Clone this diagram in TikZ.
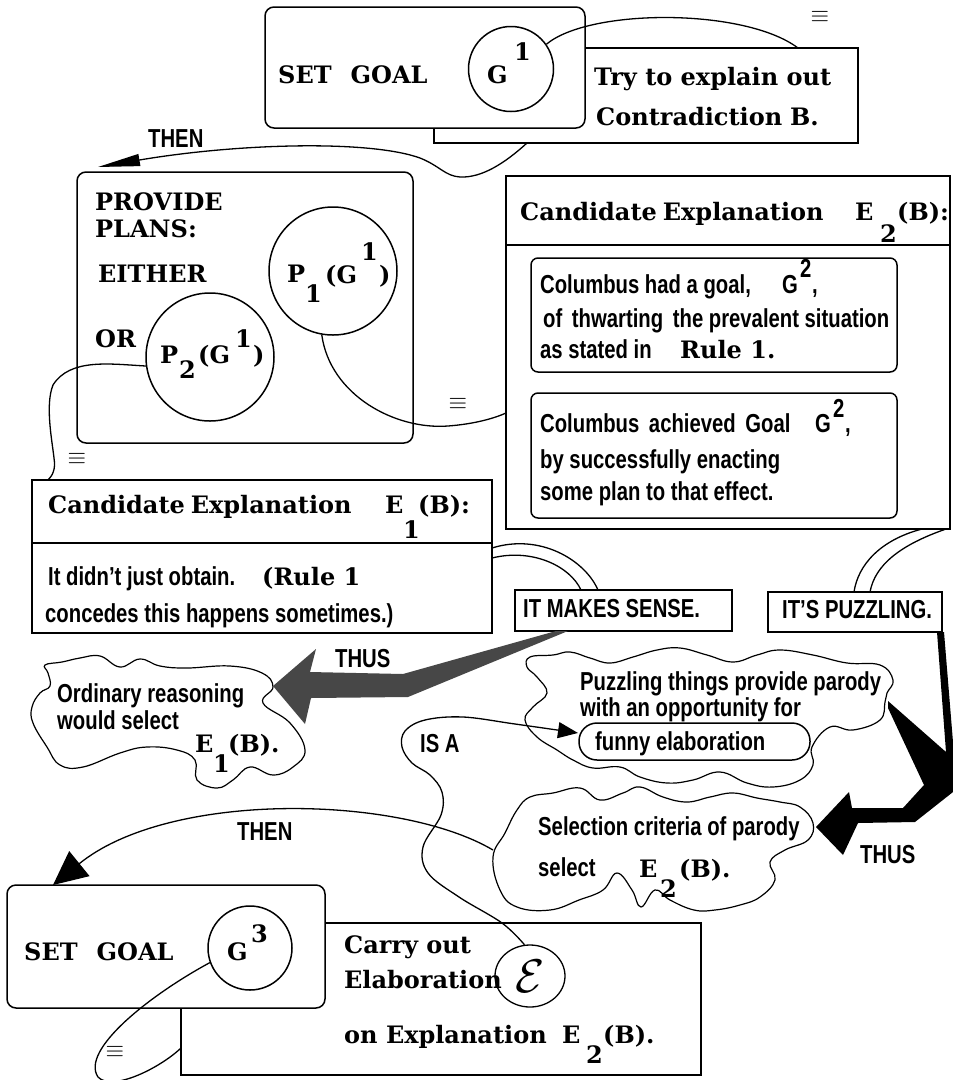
\documentclass[tikz,border=0pt]{standalone}
\usepackage{fontspec}
\usepackage{graphicx}
\setmainfont{DejaVu Serif}
\newfontfamily\condsans[FakeStretch=0.78]{Liberation Sans}
\usetikzlibrary{arrows.meta,shapes.geometric}

\tikzset{
  edge/.style={line width=1.3pt},
  cloudline/.style={line width=1.2pt},
  rbox/.style={draw, line width=1.5pt, rounded corners=9pt, fill=white, inner sep=0pt},
  sbox/.style={draw, line width=1.5pt, fill=white, inner sep=0pt},
  ring/.style={draw, circle, line width=1.5pt, fill=white, inner sep=0pt},
  serif/.style={font=\fontsize{24}{28}\selectfont\bfseries, inner sep=0pt, anchor=base west},
  sans/.style={font=\condsans\bfseries\fontsize{26}{30}\selectfont, inner sep=0pt, anchor=base west},
  eqv/.style={font=\fontsize{20}{24}\selectfont, inner sep=0pt},
}

\begin{document}
\begin{tikzpicture}[x=1pt,y=-1pt]
\useasboundingbox (0,0) rectangle (953,1080);
\fill[white] (0,0) rectangle (953,1080);

% ---- goal G1 and its description
\node[sbox, minimum width=424pt, minimum height=95pt] (tryA) at (646,95.5) {};
\node[rbox, minimum width=320pt, minimum height=121pt] (goalA) at (425,67.5) {};
\node[ring, minimum size=85pt] (g1) at (511,69) {};
\coordinate (tryTop) at (798,48);
\draw[edge] (g1.35) .. controls (590,8) and (745,8) .. (tryTop);
\coordinate (tryBot) at (527,143);
\coordinate (thenTip) at (98,167);
\draw[edge,-{Triangle[length=42pt,width=12pt]}] (tryBot) .. controls (505,163) and (482,178) .. (460,177)
   .. controls (445,176) and (440,166) .. (420,158) .. controls (370,140) and (240,143) .. (thenTip);

% ---- plans
\node[rbox, minimum width=336pt, minimum height=271pt] (plans) at (245,307.5) {};
\node[ring, minimum size=128pt] (p1) at (333,271) {};
\node[ring, minimum size=128pt] (p2) at (210,357) {};

% ---- candidate explanation E2
\node[sbox, minimum width=444pt, minimum height=69pt] (e2head) at (728,210.5) {};
\node[sbox, minimum width=444pt, minimum height=284pt] (e2body) at (728,387) {};
\node[rbox, rounded corners=7pt, minimum width=366pt, minimum height=114pt] (e2a) at (714,315) {};
\node[rbox, rounded corners=7pt, minimum width=366pt, minimum height=125pt] (e2b) at (714,455.5) {};

% ---- candidate explanation E1
\node[sbox, minimum width=460pt, minimum height=63pt] (e1head) at (262,511.5) {};
\node[sbox, minimum width=460pt, minimum height=90pt] (e1body) at (262,588) {};

% ---- plan links
\coordinate (e2p1) at (506,413);
\draw[edge] (p1.260) .. controls (330,395) and (395,430) .. (448,426) .. controls (475,424) and (495,418) .. (e2p1);
\coordinate (e1p2) at (48,480);
\draw[edge] (p2.188) .. controls (110,364) and (70,358) .. (53,385) .. controls (45,405) and (52,440) .. (54,458)
   .. controls (56,470) and (52,476) .. (e1p2);

% ---- verdict tabs
\node[sbox, minimum width=217pt, minimum height=41pt] (sense) at (623.5,610.5) {};
\node[sbox, minimum width=174pt, minimum height=40pt] (puzz) at (855,612) {};
\coordinate (e1t1) at (492,548); \coordinate (e1t2) at (492,558);
\coordinate (st1) at (598,590);  \coordinate (st2) at (581,590);
\draw[edge] (e1t1) .. controls (540,533) and (585,560) .. (st1);
\draw[edge] (e1t2) .. controls (532,548) and (570,566) .. (st2);
\coordinate (e2t1) at (922,529); \coordinate (e2t2) at (946,529);
\coordinate (pt1) at (854,592);  \coordinate (pt2) at (870,592);
\draw[edge] (e2t1) .. controls (880,540) and (858,565) .. (pt1);
\draw[edge] (e2t2) .. controls (900,545) and (875,565) .. (pt2);

% ---- thought clouds
\draw[cloudline] plot[smooth cycle, tension=0.7] coordinates {
  (45,665) (62,662) (80,658) (100,656) (120,667) (140,659) (160,666) (187,668) (230,666) (262,673)
  (273,687) (263,703) (290,723) (305,750) (293,767) (273,775) (250,767) (233,780) (217,788) (197,780)
  (195,760) (177,750) (147,747) (120,753) (83,767) (60,765) (47,747) (33,723) (32,707) (40,693)
  (50,686) (48,673)};
\draw[cloudline] plot[smooth cycle, tension=0.7] coordinates {
  (530,657) (553,655) (570,652) (590,658) (610,663) (633,657) (657,650) (680,648) (707,655) (733,662)
  (757,655) (780,650) (813,655) (847,663) (880,665) (893,680) (887,693) (885,702) (880,720) (853,730)
  (830,727) (812,747) (813,765) (800,780) (773,787) (747,783) (720,772) (693,780) (667,783) (640,777)
  (620,767) (593,768) (573,760) (557,750) (537,737) (525,720) (533,707) (547,693) (537,677) (527,667)};
\draw[cloudline] plot[smooth cycle, tension=0.7] coordinates {
  (493,857) (505,833) (517,810) (530,797) (553,793) (580,788) (600,800) (623,793) (640,787) (663,797)
  (687,802) (710,797) (733,793) (757,798) (780,802) (800,807) (813,823) (808,840) (785,850) (770,862)
  (775,880) (760,897) (740,905) (715,910) (694,910) (670,900) (655,890) (641,907) (632,890) (617,873)
  (603,890) (579,900) (550,910) (517,907) (500,890)};
\node[rbox, rounded corners=18pt, minimum width=231pt, minimum height=37pt] (funny) at (694.5,741.5) {};

% ---- THUS arrows
\fill[black!72] (273,686) -- (316,649) -- (310,672) -- (403,674) -- (556,631) -- (568,631)
   -- (408,697) -- (311,698) -- (305,724) -- cycle;
\fill[black] (888,701) -- (946,752) -- (937,632) -- (944,632) -- (953,742) -- (953,792) -- (915,822)
   -- (858,823) -- (843,855) -- (816,827) -- (849,792) -- (852,808) -- (903,808) -- (924,785)
   -- (888,708) -- cycle;

% ---- goal G3 and the elaboration
\node[sbox, minimum width=520pt, minimum height=152pt] (rectE) at (441,999) {};
\node[rbox, minimum width=318pt, minimum height=123pt] (goalB) at (166,946.5) {};
\node[ring, minimum size=84pt] (g3c) at (250,948) {};
\node[draw, ellipse, line width=1.3pt, fill=white, minimum width=70pt, minimum height=62pt, inner sep=0pt] (ecirc) at (530,976)
  {\fontsize{24}{28}\selectfont\scalebox{1.9}{$\mathcal{E}$}};
\coordinate (rectEl) at (181,1048);
\draw[edge] (g3c.200) .. controls (150,995) and (80,1050) .. (98,1077) .. controls (112,1092) and (160,1068) .. (rectEl);

% ---- IS A link and lower THEN
\coordinate (funnyTip) at (578,733);
\draw[edge,-{Triangle[length=20pt,width=16pt]}] plot[smooth, tension=0.6] coordinates {
  (ecirc.100) (502,923) (459,897) (428,873) (423,847) (441,815) (442,792) (430,775) (412,763)
  (402,747) (405,731) (425,720) (463,717) (515,724) (funnyTip)};
\coordinate (selL) at (493,850);
\coordinate (g3Tip) at (53,885);
\draw[edge,-{Triangle[length=34pt,width=32pt]}] (selL) .. controls (400,795) and (170,790) .. (g3Tip);

% ---- equivalence marks
\node[eqv] (eqA) at (820,17) {\scalebox{1.15}{$\equiv$}};
\node[eqv] (eqB) at (458,404) {\scalebox{1.15}{$\equiv$}};
\node[eqv] (eqC) at (77,459) {\scalebox{1.15}{$\equiv$}};
\node[eqv] (eqD) at (115,1052) {\scalebox{1.15}{$\equiv$}};

% ---- texts: top
\node[serif] (tSetA) at (278,83) {SET\hspace{19pt}GOAL};
\node[serif] (tGA) at (487,83) {G};
\node[serif] (tGA1) at (514,60) {1};
\node[serif] (tTry) at (594,85) {Try to explain out};
\node[serif] (tContra) at (596,125) {Contradiction\hspace{8pt}B.};
\node[sans] (tThen1) at (148,147) {THEN};
\node[serif] (tProvide) at (95,210) {PROVIDE};
\node[serif] (tPlans) at (95,237) {PLANS:};
\node[serif] (tEither) at (98,282) {EITHER};
\node[serif] (tOr) at (95,347) {OR};
\node[serif] (tP1) at (287,282) {P};
\node[serif] (tP1s) at (305,302) {1};
\node[serif] (tP1g) at (325,283) {(G};
\node[serif] (tP1g1) at (361,260) {1};
\node[serif] (tP1c) at (379,283) {)};
\node[serif] (tP2) at (160,363) {P};
\node[serif] (tP2s) at (179,378) {2};
\node[serif] (tP2g) at (198,363) {(G};
\node[serif] (tP2g1) at (235,347) {1};
\node[serif] (tP2c) at (253,363) {)};

% ---- texts: E2
\node[serif] (tCand2) at (520,220) {Candidate\hspace{6pt}Explanation};
\node[serif] (tE2) at (855,220) {E};
\node[serif] (tE2s) at (880,242) {2};
\node[serif] (tE2b) at (897,220) {(B):};
\node[sans] (tCol1) at (540,293) {Columbus had a goal,};
\node[sans] (tCol1G) at (782,293) {G};
\node[sans] (tCol1s) at (800,277) {2};
\node[sans] (tCol1c) at (812,293) {,};
\node[sans] (tThw) at (543,327) {of\hspace{4pt} thwarting\hspace{4pt} the prevalent situation};
\node[sans] (tStated) at (540,358) {as stated in};
\node[serif] (tRule) at (680,358) {Rule 1.};
\node[sans] (tCol2) at (540,432) {Columbus\hspace{4pt} achieved\hspace{4pt} Goal};
\node[sans] (tCol2G) at (815,432) {G};
\node[sans] (tCol2s) at (833,417) {2};
\node[sans] (tCol2c) at (845,432) {,};
\node[sans] (tBy) at (540,468) {by successfully enacting};
\node[sans] (tSome) at (540,500) {some plan to that effect.};

% ---- texts: E1
\node[serif] (tCand1) at (48,513) {Candidate\hspace{6pt}Explanation};
\node[serif] (tE1) at (385,513) {E};
\node[serif] (tE1s) at (403,538) {1};
\node[serif] (tE1b) at (418,513) {(B):};
\node[sans] (tObtain) at (48,585) {It didn’t just obtain.};
\node[serif] (tRule1) at (262,585) {(Rule 1};
\node[sans] (tConcede) at (45,622) {concedes this happens sometimes.)};

% ---- texts: verdicts and clouds
\node[sans] (tSense) at (523,617) {IT MAKES SENSE.};
\node[sans] (tPuzz) at (782,618) {IT’S PUZZLING.};
\node[sans] (tThus1) at (335,667) {THUS};
\node[sans] (tOrd) at (57,702) {Ordinary reasoning};
\node[sans] (tWould) at (57,729) {would select};
\node[serif] (tOE) at (195,752) {E};
\node[serif] (tOEs) at (213,772) {1};
\node[serif] (tOEb) at (228,752) {(B).};
\node[sans] (tPz1) at (580,690) {Puzzling things provide parody};
\node[sans] (tPz2) at (580,716) {with an opportunity for};
\node[sans] (tFunny) at (595,750) {funny elaboration};
\node[sans] (tIsa) at (420,752) {IS A};
\node[sans] (tSel) at (538,835) {Selection criteria of parody};
\node[sans] (tSelect) at (538,876) {select};
\node[serif] (tSE) at (639,877) {E};
\node[serif] (tSEs) at (660,897) {2};
\node[serif] (tSEb) at (679,877) {(B).};
\node[sans] (tThus2) at (860,863) {THUS};
\node[sans] (tThen2) at (237,840) {THEN};

% ---- texts: bottom
\node[serif] (tSetB) at (24,960) {SET\hspace{19pt}GOAL};
\node[serif] (tG3) at (227,960) {G};
\node[serif] (tG3s) at (251,942) {3};
\node[serif] (tCarry) at (344,953) {Carry out};
\node[serif] (tElab) at (344,988) {Elaboration};
\node[serif] (tOnExp) at (344,1043) {on Explanation};
\node[serif] (tOnE) at (562,1043) {E};
\node[serif] (tOnEs) at (586,1063) {2};
\node[serif] (tOnEb) at (603,1043) {(B).};
\end{tikzpicture}
\end{document}
